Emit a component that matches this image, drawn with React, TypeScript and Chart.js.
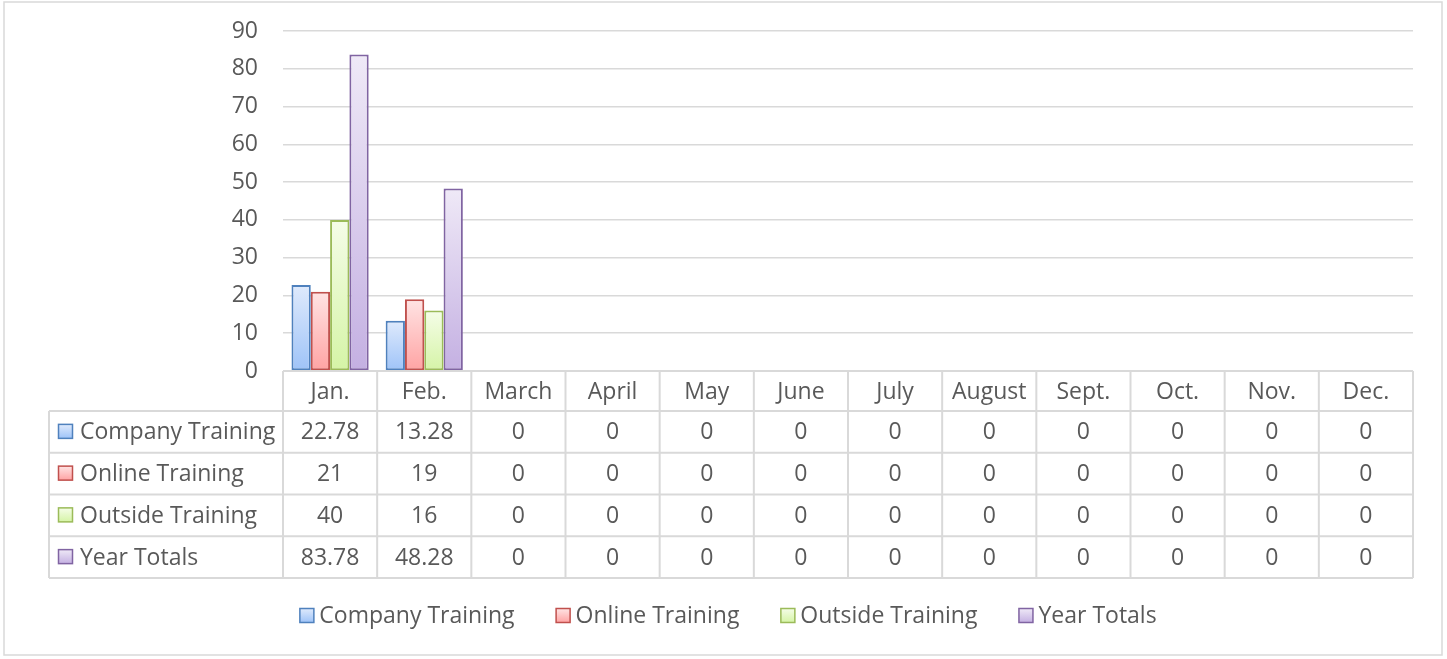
import React, { useEffect, useRef } from "react";
import { Chart, registerables } from "chart.js";

Chart.register(...registerables);

const months = ["Jan.", "Feb.", "March", "April", "May", "June", "July", "August", "Sept.", "Oct.", "Nov.", "Dec."];
const seriesNames = ["Company Training", "Online Training", "Outside Training", "Year Totals"];
const companyTraining = [22.78, 13.28, 0, 0, 0, 0, 0, 0, 0, 0, 0, 0];
const onlineTraining = [21, 19, 0, 0, 0, 0, 0, 0, 0, 0, 0, 0];
const outsideTraining = [40, 16, 0, 0, 0, 0, 0, 0, 0, 0, 0, 0];
const yearTotals = [83.78, 48.28, 0, 0, 0, 0, 0, 0, 0, 0, 0, 0];
const yTicks = [0, 10, 20, 30, 40, 50, 60, 70, 80, 90];

const borderColors = ["#4f81bd", "#c0504d", "#9bbb59", "#8064a2"];
const topColors = ["#dfeafc", "#ffe4e4", "#f5fde8", "#efe9f7"];
const bottomColors = ["#9ec3f8", "#ffa3a3", "#d5f4a6", "#c4b0e2"];

const FONT = "'Open Sans', sans-serif";
const FONT_SIZE = 23;
const TEXT = "#595959";
const LINE = "#d9d9d9";

const allSeries = [companyTraining, onlineTraining, outsideTraining, yearTotals];

function fmt(v: number) {
  return String(v);
}

function makeGradient(chart: any, value: number, i: number) {
  const y = chart.scales && chart.scales.y;
  if (!y || !chart.chartArea) return bottomColors[i];
  const top = y.getPixelForValue(value);
  const bottom = y.getPixelForValue(0);
  if (!(bottom > top)) return bottomColors[i];
  const g = chart.ctx.createLinearGradient(0, top, 0, bottom);
  g.addColorStop(0, topColors[i]);
  g.addColorStop(1, bottomColors[i]);
  return g;
}

function drawMarker(ctx: CanvasRenderingContext2D, x: number, y: number, s: number, i: number) {
  const g = ctx.createLinearGradient(0, y, 0, y + s);
  g.addColorStop(0, topColors[i]);
  g.addColorStop(1, bottomColors[i]);
  ctx.fillStyle = g;
  ctx.fillRect(x, y, s, s);
  ctx.strokeStyle = borderColors[i];
  ctx.lineWidth = 1.5;
  ctx.strokeRect(x, y, s, s);
}

const tablePlugin = {
  id: "dataTable",
  afterDraw(chart: any) {
    const ctx: CanvasRenderingContext2D = chart.ctx;
    const area = chart.chartArea;
    const xs = chart.scales.x;
    const colW = (area.right - area.left) / months.length;
    const headerH = 40;
    const rowH = 41.75;
    const tableTop = area.bottom;
    const rowsTop = tableTop + headerH;
    const tableBottom = rowsTop + rowH * allSeries.length;
    const labelLeft = 49;

    ctx.save();
    ctx.strokeStyle = LINE;
    ctx.lineWidth = 2;
    ctx.beginPath();
    ctx.moveTo(area.left, tableTop);
    ctx.lineTo(area.right, tableTop);
    for (let r = 0; r <= allSeries.length; r++) {
      const y = rowsTop + r * rowH;
      ctx.moveTo(labelLeft, y);
      ctx.lineTo(area.right, y);
    }
    ctx.moveTo(labelLeft, rowsTop);
    ctx.lineTo(labelLeft, tableBottom);
    for (let c = 0; c <= months.length; c++) {
      const x = area.left + c * colW;
      ctx.moveTo(x, tableTop);
      ctx.lineTo(x, tableBottom);
    }
    ctx.stroke();

    ctx.fillStyle = TEXT;
    ctx.font = `${FONT_SIZE}px ${FONT}`;
    ctx.textBaseline = "middle";
    ctx.textAlign = "center";
    months.forEach((m, c) => {
      const cx = xs.getPixelForValue(c);
      ctx.fillText(m, cx, tableTop + headerH / 2 + 1);
    });
    allSeries.forEach((vals, r) => {
      const cy = rowsTop + r * rowH + rowH / 2 + 1;
      vals.forEach((v, c) => {
        const cx = xs.getPixelForValue(c);
        ctx.textAlign = "center";
        ctx.fillStyle = TEXT;
        ctx.fillText(fmt(v), cx, cy);
      });
      drawMarker(ctx, 58.5, cy - 8.5, 14, r);
      ctx.fillStyle = TEXT;
      ctx.textAlign = "left";
      ctx.fillText(seriesNames[r], 80, cy);
    });

    // legend
    const gap = 6;
    const box = 14;
    const spacing = 41;
    const widths = seriesNames.map((n) => box + gap + ctx.measureText(n).width);
    const total = widths.reduce((a, b) => a + b, 0) + spacing * (widths.length - 1);
    let x = 728 - total / 2;
    const ly = 616;
    seriesNames.forEach((n, i) => {
      drawMarker(ctx, x + 0.5, ly - 7.5, box, i);
      ctx.fillStyle = TEXT;
      ctx.textAlign = "left";
      ctx.fillText(n, x + box + gap, ly);
      x += widths[i] + spacing;
    });

    // outer frame
    ctx.strokeStyle = LINE;
    ctx.lineWidth = 1.5;
    ctx.strokeRect(4, 2, 1438, 653);
    ctx.restore();
  },
};

export default function App() {
  const ref = useRef<HTMLCanvasElement | null>(null);
  useEffect(() => {
    document.body.style.margin = "0";
    const canvas = ref.current;
    if (!canvas) return;
    const chart = new Chart(canvas, {
      type: "bar",
      data: {
        labels: months,
        datasets: allSeries.map((vals, i) => ({
          label: seriesNames[i],
          data: vals,
          backgroundColor: (c: any) => makeGradient(c.chart, c.raw as number, i),
          borderColor: borderColors[i],
          borderWidth: 2,
          borderSkipped: false,
          categoryPercentage: 0.82,
          barPercentage: 1,
        })),
      },
      options: {
        responsive: false,
        animation: false,
        maintainAspectRatio: false,
        layout: { padding: { left: 0, right: 34, top: 31, bottom: 81 } },
        plugins: { legend: { display: false }, tooltip: { enabled: false } },
        scales: {
          x: {
            grid: { display: false },
            border: { display: false },
            ticks: { display: false },
            afterFit: (s: any) => {
              s.height = 207;
            },
          },
          y: {
            min: 0,
            max: 90,
            afterBuildTicks: (s: any) => {
              s.ticks = yTicks.map((v) => ({ value: v }));
            },
            grid: { color: LINE, lineWidth: 1.5, drawTicks: false },
            border: { display: false },
            ticks: {
              padding: 25,
              color: TEXT,
              font: { family: FONT, size: FONT_SIZE },
            },
            afterFit: (s: any) => {
              s.width = 283;
              s.paddingTop = 0;
              s.paddingBottom = 0;
            },
          },
        },
      },
      plugins: [tablePlugin],
    });
    return () => chart.destroy();
  }, []);
  return (
    <div style={{ position: "relative", width: 1447, height: 659, background: "#fff" }}>
      <canvas ref={ref} width={1447} height={659} style={{ display: "block", width: 1447, height: 659 }} />
    </div>
  );
}
